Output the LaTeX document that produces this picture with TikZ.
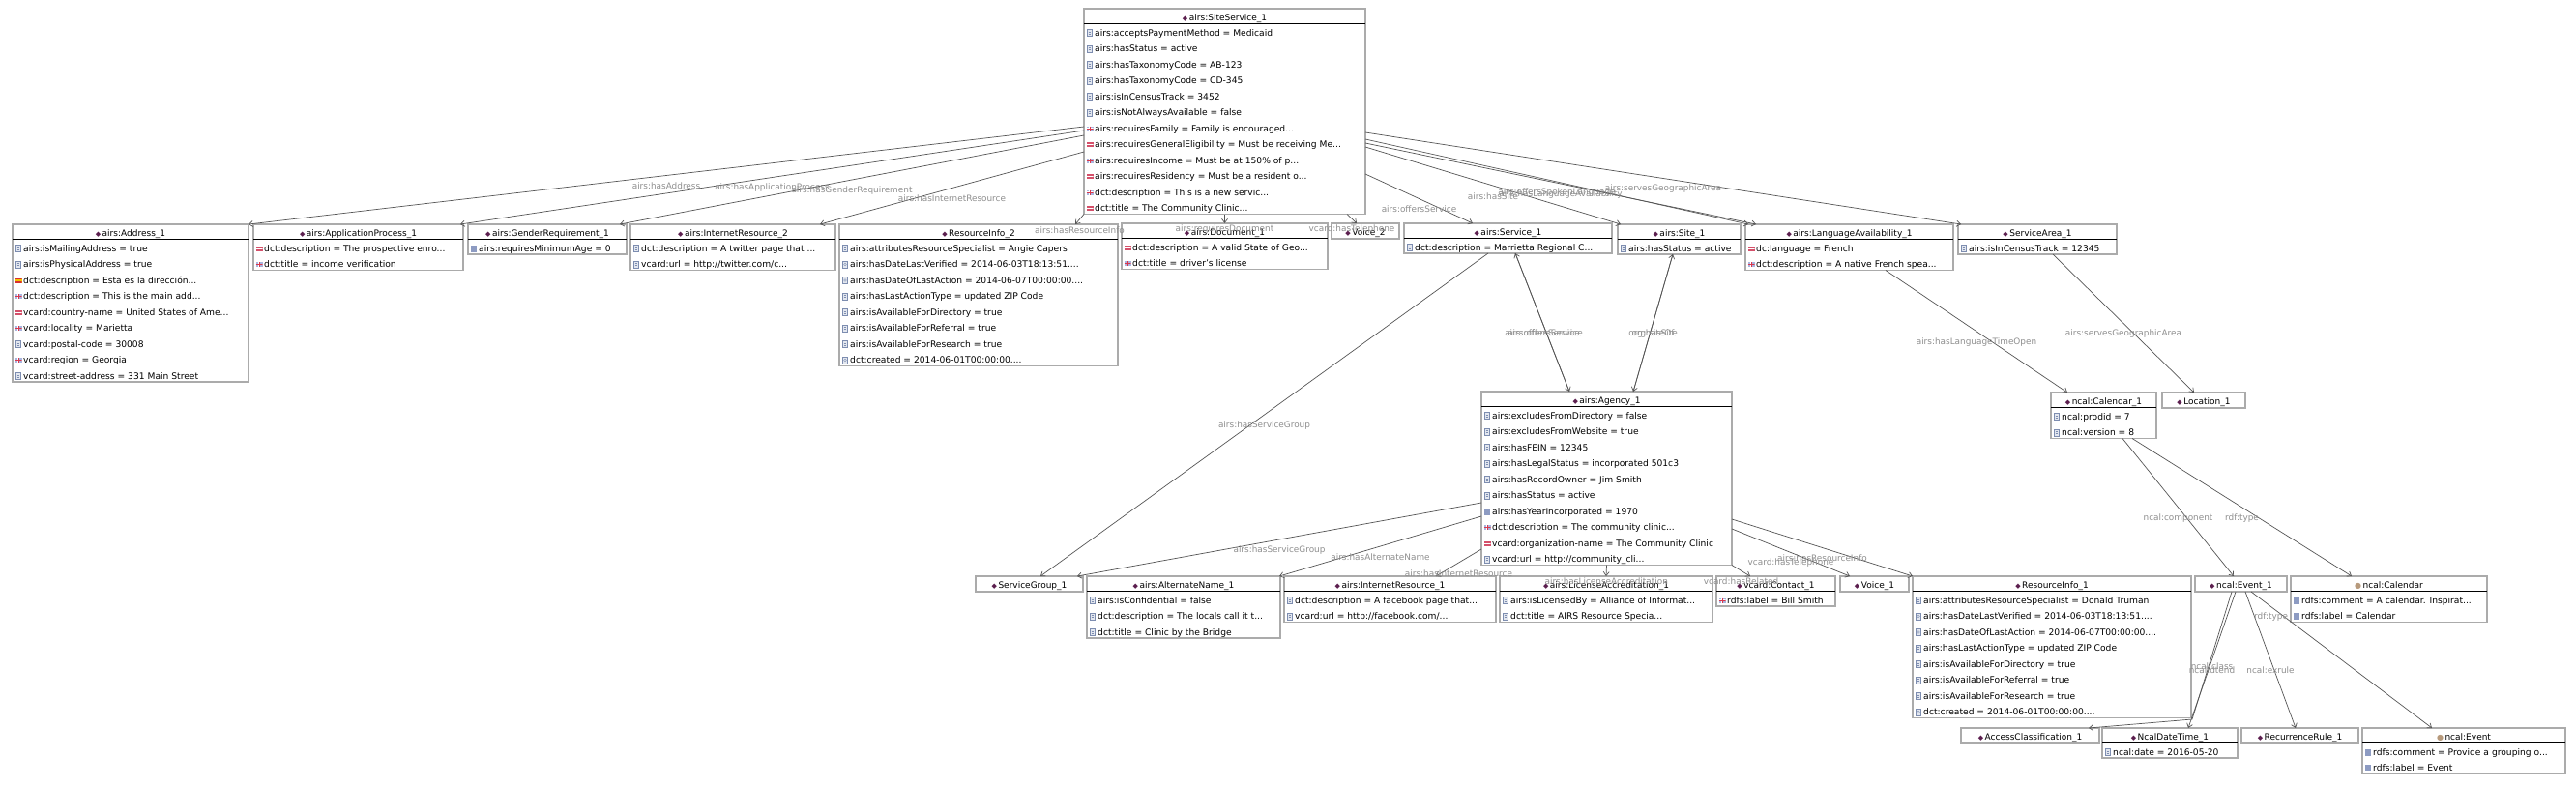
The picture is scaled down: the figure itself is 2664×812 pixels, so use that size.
\documentclass[tikz,border=0pt]{standalone}
\usepackage{fontspec}
\setmainfont{DejaVu Sans}
\usetikzlibrary{arrows.meta}

\definecolor{boxgray}{HTML}{ABABAB}
\definecolor{edgegray}{HTML}{555555}
\definecolor{labelgray}{HTML}{8F8F8F}
\definecolor{indcol}{HTML}{5C1F4F}
\definecolor{clscol}{HTML}{B79A7C}
\definecolor{icoline}{HTML}{7D8DB0}
\definecolor{icofill}{HTML}{E3E7EF}
\definecolor{icosolidcol}{HTML}{8D9BC2}
\definecolor{ukblue}{HTML}{A9B4DE}
\definecolor{ukred}{HTML}{D8384E}
\definecolor{usred}{HTML}{D4506A}
\definecolor{esred}{HTML}{D83030}
\definecolor{esyellow}{HTML}{F5C400}

\newcommand{\indmark}{{\color{indcol}\fontsize{7}{7}\selectfont ◆}}
\newcommand{\clsmark}{{\color{clscol}\fontsize{8}{8}\selectfont ●}}

\tikzset{
  ontoshape/.style={rectangle, draw=boxgray, line width=1.1pt, fill=white, inner sep=0pt, outer sep=0pt},
  headsep/.style={black, line width=0.9pt},
  titletext/.style={inner sep=0pt, font=\fontsize{9}{10}\selectfont},
  rowtext/.style={anchor=base west, inner sep=0pt, font=\fontsize{9.15}{10}\selectfont},
  icobase/.style={rectangle, inner sep=0pt, outer sep=0pt},
  icolit/.style={icobase, minimum width=5pt, minimum height=7pt, draw=icoline, fill=icofill, line width=0.5pt,
    path picture={\draw[icoline, line width=0.4pt]
      ([xshift=-1.3pt,yshift=1pt]path picture bounding box.center) -- ([xshift=1.3pt,yshift=1pt]path picture bounding box.center)
      ([xshift=-1.3pt,yshift=-1pt]path picture bounding box.center) -- ([xshift=1.3pt,yshift=-1pt]path picture bounding box.center);}},
  icodate/.style={icobase, minimum width=5pt, minimum height=7pt, draw=icoline, fill=icofill, line width=0.5pt,
    path picture={\draw[icoline, line width=0.4pt] (path picture bounding box.center) circle (1.4pt);}},
  icosolid/.style={icobase, minimum width=6pt, minimum height=7pt, fill=icosolidcol},
  icouk/.style={icobase, minimum width=7pt, minimum height=5pt, fill=ukblue,
    path picture={\draw[white, line width=1.4pt] (path picture bounding box.west) -- (path picture bounding box.east)
      (path picture bounding box.north) -- (path picture bounding box.south);
      \draw[ukred, line width=0.7pt] (path picture bounding box.west) -- (path picture bounding box.east)
      (path picture bounding box.north) -- (path picture bounding box.south);}},
  icous/.style={icobase, minimum width=7pt, minimum height=5pt, fill=usred,
    path picture={\draw[white, line width=1pt] (path picture bounding box.west) -- (path picture bounding box.east);}},
  icoes/.style={icobase, minimum width=7pt, minimum height=5pt, fill=esyellow,
    path picture={\fill[esred] (path picture bounding box.north west) rectangle ([yshift=-1.3pt]path picture bounding box.north east);
      \fill[esred] (path picture bounding box.south west) rectangle ([yshift=1.3pt]path picture bounding box.south east);}},
  rel/.style={draw=edgegray, line width=0.7pt, -{Straight Barb[length=4pt,width=6pt]}},
  elabel/.style={pos=0.5, yshift=-11pt, text=labelgray, inner sep=0pt, font=\fontsize{8.9}{10}\selectfont},
}

% name, x, y, width, rows, marker, title, rows
\newcommand{\ontobox}[8]{%
  \pgfmathsetmacro{\boxh}{ifthenelse(#5==0,16,14.5+16.5*#5)}%
  \node[ontoshape, minimum width=#4pt, minimum height=\boxh pt, anchor=north west] (#1) at (#2,#3) {};
  \node[titletext, anchor=base] at ({#2+#4/2},{#3+12}) {#6\,#7};
  \ifnum#5>0
    \draw[headsep] ({#2},{#3+15.5}) -- ({#2+#4},{#3+15.5});
    \foreach \ic/\tx [count=\k] in {#8} {
      \node[\ic] at ({#2+6},{#3+25+16.5*(\k-1)}) {};
      \node[rowtext] at ({#2+11},{#3+28.3+16.5*(\k-1)}) {\tx};
    }
  \fi
}

\begin{document}
\begin{tikzpicture}[x=1pt,y=-1pt]
\fill[white] (0,0) rectangle (2664,812);
\useasboundingbox (0,0) rectangle (2664,812);

% top
\ontobox{siteservice}{1121}{9}{291}{12}{\indmark}{airs:SiteService\_1}{
  icolit/{airs:acceptsPaymentMethod = Medicaid},
  icolit/{airs:hasStatus = active},
  icolit/{airs:hasTaxonomyCode = AB-123},
  icolit/{airs:hasTaxonomyCode = CD-345},
  icolit/{airs:isInCensusTrack = 3452},
  icolit/{airs:isNotAlwaysAvailable = false},
  icouk/{airs:requiresFamily = Family is encouraged...},
  icous/{airs:requiresGeneralEligibility = Must be receiving Me...},
  icouk/{airs:requiresIncome = Must be at 150\% of p...},
  icous/{airs:requiresResidency = Must be a resident o...},
  icouk/{dct:description = This is a new servic...},
  icous/{dct:title = The Community Clinic...}}

% second row
\ontobox{address}{13}{232}{244}{9}{\indmark}{airs:Address\_1}{
  icolit/{airs:isMailingAddress = true},
  icolit/{airs:isPhysicalAddress = true},
  icoes/{dct:description = Esta es la dirección...},
  icouk/{dct:description = This is the main add...},
  icous/{vcard:country-name = United States of Ame...},
  icouk/{vcard:locality = Marietta},
  icolit/{vcard:postal-code = 30008},
  icouk/{vcard:region = Georgia},
  icolit/{vcard:street-address = 331 Main Street}}
\ontobox{appprocess}{262}{232}{217}{2}{\indmark}{airs:ApplicationProcess\_1}{
  icous/{dct:description = The prospective enro...},
  icouk/{dct:title = income verification}}
\ontobox{genderreq}{484}{232}{164}{1}{\indmark}{airs:GenderRequirement\_1}{
  icosolid/{airs:requiresMinimumAge = 0}}
\ontobox{internetres2}{652}{232}{212}{2}{\indmark}{airs:InternetResource\_2}{
  icolit/{dct:description = A twitter page that ...},
  icolit/{vcard:url = http://twitter.com/c...}}
\ontobox{resinfo2}{868}{232}{288}{8}{\indmark}{ResourceInfo\_2}{
  icolit/{airs:attributesResourceSpecialist = Angie Capers},
  icodate/{airs:hasDateLastVerified = 2014-06-03T18:13:51....},
  icodate/{airs:hasDateOfLastAction = 2014-06-07T00:00:00....},
  icolit/{airs:hasLastActionType = updated ZIP Code},
  icolit/{airs:isAvailableForDirectory = true},
  icolit/{airs:isAvailableForReferral = true},
  icolit/{airs:isAvailableForResearch = true},
  icodate/{dct:created = 2014-06-01T00:00:00....}}
\ontobox{document}{1160}{231}{213}{2}{\indmark}{airs:Document\_1}{
  icous/{dct:description = A valid State of Geo...},
  icouk/{dct:title = driver's license}}
\ontobox{voice2}{1377}{231}{70}{0}{\indmark}{Voice\_2}{}
\ontobox{service}{1452}{231}{215}{1}{\indmark}{airs:Service\_1}{
  icolit/{dct:description = Marrietta Regional C...}}
\ontobox{site}{1673}{232}{127}{1}{\indmark}{airs:Site\_1}{
  icolit/{airs:hasStatus = active}}
\ontobox{langavail}{1805}{232}{215}{2}{\indmark}{airs:LanguageAvailability\_1}{
  icous/{dc:language = French},
  icouk/{dct:description = A native French spea...}}
\ontobox{servicearea}{2025}{232}{164}{1}{\indmark}{ServiceArea\_1}{
  icolit/{airs:isInCensusTrack = 12345}}

% middle
\ontobox{calendar1}{2121}{406}{109}{2}{\indmark}{ncal:Calendar\_1}{
  icolit/{ncal:prodid = 7},
  icolit/{ncal:version = 8}}
\ontobox{location}{2236}{406}{86}{0}{\indmark}{Location\_1}{}
\ontobox{agency}{1532}{405}{259}{10}{\indmark}{airs:Agency\_1}{
  icolit/{airs:excludesFromDirectory = false},
  icolit/{airs:excludesFromWebsite = true},
  icolit/{airs:hasFEIN = 12345},
  icolit/{airs:hasLegalStatus = incorporated 501c3},
  icolit/{airs:hasRecordOwner = Jim Smith},
  icolit/{airs:hasStatus = active},
  icosolid/{airs:hasYearIncorporated = 1970},
  icouk/{dct:description = The community clinic...},
  icous/{vcard:organization-name = The Community Clinic},
  icolit/{vcard:url = http://community\_cli...}}

% bottom row
\ontobox{servicegroup}{1009}{596}{111}{0}{\indmark}{ServiceGroup\_1}{}
\ontobox{altname}{1124}{596}{200}{3}{\indmark}{airs:AlternateName\_1}{
  icolit/{airs:isConfidential = false},
  icolit/{dct:description = The locals call it t...},
  icolit/{dct:title = Clinic by the Bridge}}
\ontobox{internetres1}{1328}{596}{219}{2}{\indmark}{airs:InternetResource\_1}{
  icolit/{dct:description = A facebook page that...},
  icolit/{vcard:url = http://facebook.com/...}}
\ontobox{license}{1551}{596}{220}{2}{\indmark}{airs:LicenseAccreditation\_1}{
  icolit/{airs:isLicensedBy = Alliance of Informat...},
  icolit/{dct:title = AIRS Resource Specia...}}
\ontobox{contact}{1775}{596}{123}{1}{\indmark}{vcard:Contact\_1}{
  icouk/{rdfs:label = Bill Smith}}
\ontobox{voice1}{1903}{596}{71}{0}{\indmark}{Voice\_1}{}
\ontobox{resinfo1}{1978}{596}{288}{8}{\indmark}{ResourceInfo\_1}{
  icolit/{airs:attributesResourceSpecialist = Donald Truman},
  icodate/{airs:hasDateLastVerified = 2014-06-03T18:13:51....},
  icodate/{airs:hasDateOfLastAction = 2014-06-07T00:00:00....},
  icolit/{airs:hasLastActionType = updated ZIP Code},
  icolit/{airs:isAvailableForDirectory = true},
  icolit/{airs:isAvailableForReferral = true},
  icolit/{airs:isAvailableForResearch = true},
  icodate/{dct:created = 2014-06-01T00:00:00....}}
\ontobox{event1}{2270}{596}{95}{0}{\indmark}{ncal:Event\_1}{}
\ontobox{calclass}{2369}{596}{203}{2}{\clsmark}{ncal:Calendar}{
  icosolid/{rdfs:comment = A calendar. Inspirat...},
  icosolid/{rdfs:label = Calendar}}

% last row
\ontobox{accessclass}{2028}{753}{143}{0}{\indmark}{AccessClassification\_1}{}
\ontobox{datetime}{2174}{753}{140}{1}{\indmark}{NcalDateTime\_1}{
  icolit/{ncal:date = 2016-05-20}}
\ontobox{recurrence}{2318}{753}{121}{0}{\indmark}{RecurrenceRule\_1}{}
\ontobox{eventclass}{2443}{753}{210}{2}{\clsmark}{ncal:Event}{
  icosolid/{rdfs:comment = Provide a grouping o...},
  icosolid/{rdfs:label = Event}}

% relations of the site service
\draw[rel] ([yshift=-122pt]siteservice.north west) -- node[elabel]{airs:hasAddress} (address.north east);
\draw[rel] ([yshift=-126pt]siteservice.north west) -- node[elabel]{airs:hasApplicationProcess} ([xshift=-3pt]appprocess.north east);
\draw[rel] ([yshift=-131pt]siteservice.north west) -- node[elabel]{airs:hasGenderRequirement} ([xshift=-7pt]genderreq.north east);
\draw[rel] ([yshift=-148pt]siteservice.north west) -- node[elabel]{airs:hasInternetResource} ([xshift=-16pt]internetres2.north east);
\draw[rel] (siteservice.south west) -- node[elabel]{airs:hasResourceInfo} ([xshift=-44pt]resinfo2.north east);
\draw[rel] (siteservice.south) -- node[elabel]{airs:requiresDocument} (document.north);
\draw[rel] ([xshift=-19pt]siteservice.south east) -- node[elabel]{vcard:hasTelephone} ([xshift=-9pt]voice2.north);
\draw[rel] ([yshift=-171pt]siteservice.north east) -- node[elabel]{airs:offersService} ([xshift=71pt]service.north west);
\draw[rel] ([yshift=-143pt]siteservice.north east) -- node[elabel]{airs:hasSite} ([xshift=3pt]site.north west);
\draw[rel] ([yshift=-135pt]siteservice.north east) -- node[elabel]{airs:offersSpokenLanguage} ([xshift=3pt]langavail.north west);
\draw[rel] ([yshift=-139pt]siteservice.north east) -- node[elabel]{airs:hasLanguageAvailability} ([xshift=11pt]langavail.north west);
\draw[rel] ([yshift=-128pt]siteservice.north east) -- node[elabel]{airs:servesGeographicArea} ([xshift=3pt]servicearea.north west);

% service, site, agency
\draw[rel] ([xshift=91pt]agency.north west) -- node[elabel]{airs:offersService} ([xshift=115pt]service.south west);
\draw[rel] ([xshift=115pt]service.south west) -- node[elabel, xshift=3pt]{airs:offersService} ([xshift=91pt]agency.north west);
\draw[rel] ([xshift=157pt]agency.north west) -- node[elabel]{org:hasSite} ([xshift=57pt]site.south west);
\draw[rel] ([xshift=57pt]site.south west) -- node[elabel]{org:siteOf} ([xshift=157pt]agency.north west);
\draw[rel] ([xshift=87pt]service.south west) -- node[elabel]{airs:hasServiceGroup} ([xshift=67pt]servicegroup.north west);
\draw[rel] ([xshift=145pt]langavail.south west) -- node[elabel]{airs:hasLanguageTimeOpen} ([xshift=17pt]calendar1.north west);
\draw[rel] ([xshift=98pt]servicearea.south west) -- node[elabel]{airs:servesGeographicArea} ([xshift=33pt]location.north west);
\draw[rel] ([xshift=74pt]calendar1.south west) -- node[elabel]{ncal:component} ([xshift=40pt]event1.north west);
\draw[rel] ([xshift=84pt]calendar1.south west) -- node[elabel]{rdf:type} ([xshift=63pt]calclass.north west);

% relations of the agency
\draw[rel] ([yshift=-115pt]agency.north west) -- node[elabel]{airs:hasServiceGroup} ([xshift=-6pt]servicegroup.north east);
\draw[rel] ([yshift=-129pt]agency.north west) -- node[elabel]{airs:hasAlternateName} ([xshift=-1pt]altname.north east);
\draw[rel] ([yshift=-163pt]agency.north west) -- node[elabel]{airs:hasInternetResource} ([xshift=157pt]internetres1.north west);
\draw[rel] (agency.south) -- node[elabel]{airs:hasLicenseAccreditation} (license.north);
\draw[rel] (agency.south east) -- node[elabel]{vcard:hasRelated} ([xshift=35pt]contact.north west);
\draw[rel] ([yshift=-142pt]agency.north east) -- node[elabel]{vcard:hasTelephone} ([xshift=10pt]voice1.north west);
\draw[rel] ([yshift=-132pt]agency.north east) -- node[elabel]{airs:hasResourceInfo} (resinfo1.north west);

% relations of the event
\draw[rel] ([xshift=38pt]event1.south west) -- node[elabel]{ncal:class} ([xshift=1pt,yshift=-1.5pt]resinfo1.south east) -- ([xshift=-11pt]accessclass.north east);
\draw[rel] ([xshift=42pt]event1.south west) -- node[elabel]{ncal:dtend} ([xshift=89pt]datetime.north west);
\draw[rel] ([xshift=52pt]event1.south west) -- node[elabel]{ncal:exrule} ([xshift=56pt]recurrence.north west);
\draw[rel] ([xshift=58pt]event1.south west) -- node[elabel, pos=0.11]{rdf:type} ([xshift=72pt]eventclass.north west);
\end{tikzpicture}
\end{document}
